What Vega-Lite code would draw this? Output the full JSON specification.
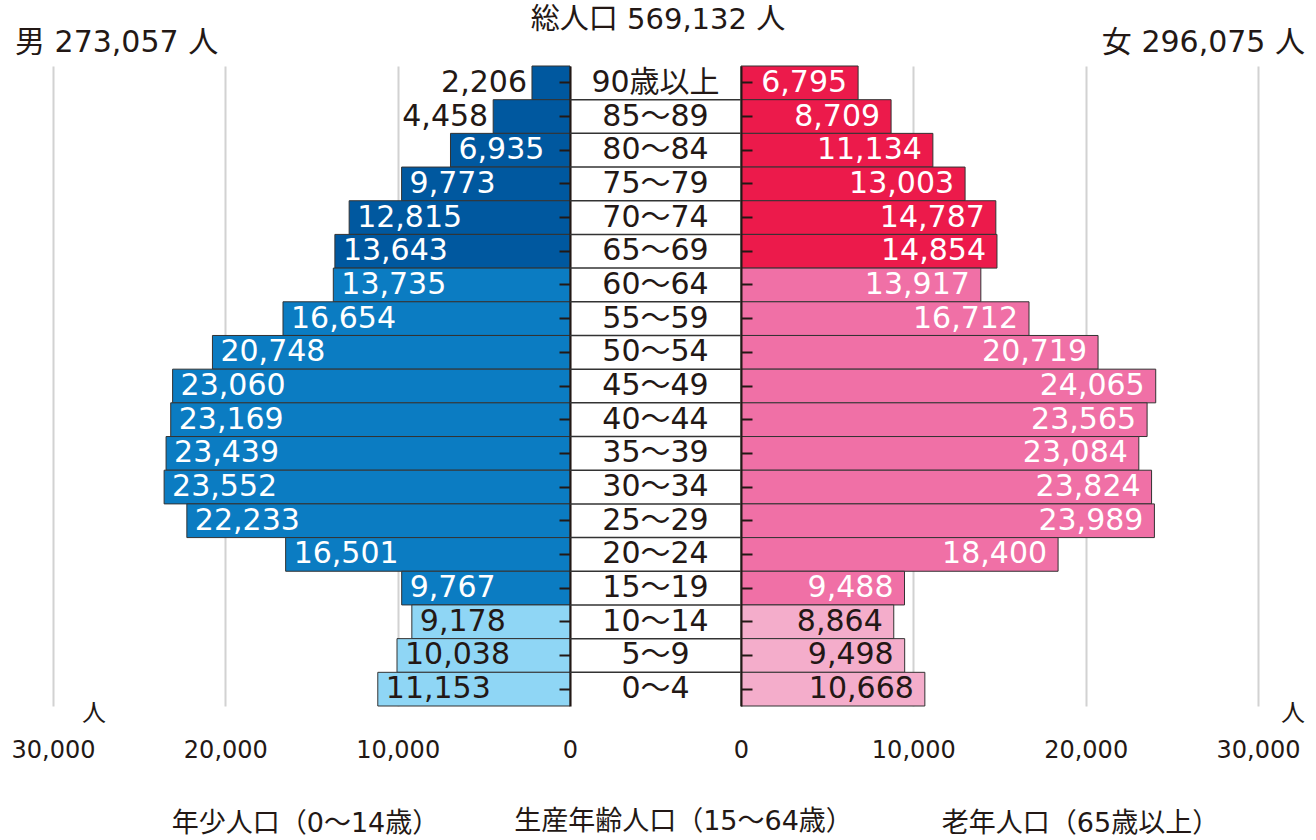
{
  "$schema": "https://vega.github.io/schema/vega-lite/v6.json",
  "background": "white",
  "padding": {"left": 11, "top": 5, "right": 5, "bottom": 5},
  "title": {"text": "総人口 569,132 人", "fontSize": 29, "fontWeight": "normal", "color": "#231815", "anchor": "middle", "offset": -7},
  "datasets": {
    "pop": [
      {"age": "90歳以上", "male": 2206, "female": 6795, "grp": "old"},
      {"age": "85～89", "male": 4458, "female": 8709, "grp": "old"},
      {"age": "80～84", "male": 6935, "female": 11134, "grp": "old"},
      {"age": "75～79", "male": 9773, "female": 13003, "grp": "old"},
      {"age": "70～74", "male": 12815, "female": 14787, "grp": "old"},
      {"age": "65～69", "male": 13643, "female": 14854, "grp": "old"},
      {"age": "60～64", "male": 13735, "female": 13917, "grp": "work"},
      {"age": "55～59", "male": 16654, "female": 16712, "grp": "work"},
      {"age": "50～54", "male": 20748, "female": 20719, "grp": "work"},
      {"age": "45～49", "male": 23060, "female": 24065, "grp": "work"},
      {"age": "40～44", "male": 23169, "female": 23565, "grp": "work"},
      {"age": "35～39", "male": 23439, "female": 23084, "grp": "work"},
      {"age": "30～34", "male": 23552, "female": 23824, "grp": "work"},
      {"age": "25～29", "male": 22233, "female": 23989, "grp": "work"},
      {"age": "20～24", "male": 16501, "female": 18400, "grp": "work"},
      {"age": "15～19", "male": 9767, "female": 9488, "grp": "work"},
      {"age": "10～14", "male": 9178, "female": 8864, "grp": "young"},
      {"age": "5～9", "male": 10038, "female": 9498, "grp": "young"},
      {"age": "0～4", "male": 11153, "female": 10668, "grp": "young"}
    ]
  },
  "data": {"name": "pop"},
  "spacing": 0,
  "bounds": "flush",
  "resolve": {"scale": {"x": "independent", "color": "independent"}},
  "hconcat": [
    {
      "width": 517,
      "height": 640,
      "title": {"text": "男 273,057 人", "anchor": "start", "fontSize": 30, "fontWeight": "normal", "color": "#231815", "offset": 8, "dx": 4},
      "encoding": {
        "y": {"field": "age", "type": "nominal", "sort": null,
          "scale": {"domain": ["90歳以上","85～89","80～84","75～79","70～74","65～69","60～64","55～59","50～54","45～49","40～44","35～39","30～34","25～29","20～24","15～19","10～14","5～9","0～4"], "paddingInner": 0, "paddingOuter": 0},
          "axis": {"orient": "right", "labels": false, "title": null, "domainColor": "#231815", "domainWidth": 2, "tickColor": "#231815", "tickWidth": 2, "tickSize": -11, "zindex": 2}},
        "x": {"field": "male", "type": "quantitative",
          "scale": {"domain": [0, 30000], "reverse": true, "nice": false},
          "axis": {"values": [0, 10000, 20000, 30000], "format": ",d", "grid": true, "gridColor": "#d2d2d2", "gridWidth": 2, "domain": false, "ticks": false, "labelFontSize": 24, "labelColor": "#231815", "labelPadding": 32, "labelFlush": false, "labelOverlap": false, "title": "年少人口（0～14歳）", "titleFontSize": 27, "titleFontWeight": "normal", "titleColor": "#231815", "titleX": 252, "titleY": 117, "titleBaseline": "middle", "zindex": 0}}
      },
      "layer": [
        {
          "mark": {"type": "bar", "stroke": "#333333", "strokeWidth": 1},
          "encoding": {
            "color": {"field": "grp", "type": "nominal", "legend": null,
              "scale": {"domain": ["old", "work", "young"], "range": ["#00589f", "#0b7cc2", "#8fd6f5"]}}
          }
        },
        {
          "transform": [{"filter": "datum.male < 5000"}],
          "mark": {"type": "text", "align": "right", "dx": -5, "fontSize": 30, "color": "#231815"},
          "encoding": {"text": {"field": "male", "type": "quantitative", "format": ",d"}}
        },
        {
          "transform": [{"filter": "datum.male >= 5000 && datum.grp == 'young'"}],
          "mark": {"type": "text", "align": "left", "dx": 8, "fontSize": 30, "color": "#231815"},
          "encoding": {"text": {"field": "male", "type": "quantitative", "format": ",d"}}
        },
        {
          "transform": [{"filter": "datum.male >= 5000 && datum.grp != 'young'"}],
          "mark": {"type": "text", "align": "left", "dx": 8, "fontSize": 30, "color": "white"},
          "encoding": {"text": {"field": "male", "type": "quantitative", "format": ",d"}}
        },
        {
          "data": {"values": [{"male": 30000, "age": "0～4", "unit": "人"}]},
          "mark": {"type": "text", "dx": 41, "dy": 25, "fontSize": 24, "color": "#231815"},
          "encoding": {"text": {"field": "unit"}}
        }
      ]
    },
    {
      "width": 171,
      "height": 640,
      "title": {"text": "生産年齢人口（15～64歳）", "orient": "bottom", "offset": 103, "dx": 28, "fontSize": 27, "fontWeight": "normal", "color": "#231815"},
      "encoding": {
        "y": {"field": "age", "type": "nominal", "sort": null,
          "scale": {"domain": ["90歳以上","85～89","80～84","75～79","70～74","65～69","60～64","55～59","50～54","45～49","40～44","35～39","30～34","25～29","20～24","15～19","10～14","5～9","0～4"], "paddingInner": 0, "paddingOuter": 0},
          "axis": null}
      },
      "layer": [
        {
          "transform": [{"filter": "datum.age != '90歳以上'"}],
          "mark": {"type": "rule", "color": "#333333", "strokeWidth": 1.5},
          "encoding": {"y": {"field": "age", "type": "nominal", "bandPosition": 0, "sort": null,
            "scale": {"domain": ["90歳以上","85～89","80～84","75～79","70～74","65～69","60～64","55～59","50～54","45～49","40～44","35～39","30～34","25～29","20～24","15～19","10～14","5～9","0～4"], "paddingInner": 0, "paddingOuter": 0},
            "axis": null}}
        },
        {
          "mark": {"type": "text", "fontSize": 30, "color": "#231815"},
          "encoding": {"text": {"field": "age"}}
        }
      ]
    },
    {
      "width": 517,
      "height": 640,
      "title": {"text": "女 296,075 人", "anchor": "end", "fontSize": 30, "fontWeight": "normal", "color": "#231815", "offset": 8},
      "encoding": {
        "y": {"field": "age", "type": "nominal", "sort": null,
          "scale": {"domain": ["90歳以上","85～89","80～84","75～79","70～74","65～69","60～64","55～59","50～54","45～49","40～44","35～39","30～34","25～29","20～24","15～19","10～14","5～9","0～4"], "paddingInner": 0, "paddingOuter": 0},
          "axis": {"orient": "left", "labels": false, "title": null, "domainColor": "#231815", "domainWidth": 2, "tickColor": "#231815", "tickWidth": 2, "tickSize": -11, "zindex": 2}},
        "x": {"field": "female", "type": "quantitative",
          "scale": {"domain": [0, 30000], "nice": false},
          "axis": {"values": [0, 10000, 20000, 30000], "format": ",d", "grid": true, "gridColor": "#d2d2d2", "gridWidth": 2, "domain": false, "ticks": false, "labelFontSize": 24, "labelColor": "#231815", "labelPadding": 32, "labelFlush": false, "labelOverlap": false, "title": "老年人口（65歳以上）", "titleFontSize": 27, "titleFontWeight": "normal", "titleColor": "#231815", "titleX": 339, "titleY": 117, "titleBaseline": "middle", "zindex": 0}}
      },
      "layer": [
        {
          "mark": {"type": "bar", "stroke": "#333333", "strokeWidth": 1},
          "encoding": {
            "color": {"field": "grp", "type": "nominal", "legend": null,
              "scale": {"domain": ["old", "work", "young"], "range": ["#ec1a4b", "#f070a6", "#f4adcb"]}}
          }
        },
        {
          "transform": [{"filter": "datum.grp == 'young'"}],
          "mark": {"type": "text", "align": "right", "dx": -11, "fontSize": 30, "color": "#231815"},
          "encoding": {"text": {"field": "female", "type": "quantitative", "format": ",d"}}
        },
        {
          "transform": [{"filter": "datum.grp != 'young'"}],
          "mark": {"type": "text", "align": "right", "dx": -11, "fontSize": 30, "color": "white"},
          "encoding": {"text": {"field": "female", "type": "quantitative", "format": ",d"}}
        },
        {
          "data": {"values": [{"female": 30000, "age": "0～4", "unit": "人"}]},
          "mark": {"type": "text", "dx": 35, "dy": 25, "fontSize": 24, "color": "#231815"},
          "encoding": {"text": {"field": "unit"}}
        }
      ]
    }
  ],
  "config": {
    "view": {"stroke": null},
    "font": "DejaVu Sans, Noto Sans CJK JP",
    "text": {"font": "DejaVu Sans, Noto Sans CJK JP"},
    "title": {"font": "DejaVu Sans, Noto Sans CJK JP"},
    "axis": {"labelFont": "DejaVu Sans, Noto Sans CJK JP", "titleFont": "DejaVu Sans, Noto Sans CJK JP"}
  }
}
